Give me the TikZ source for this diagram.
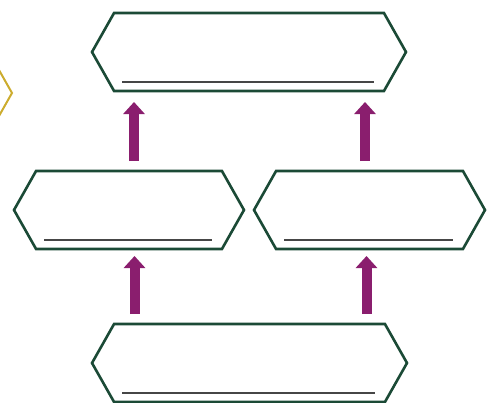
\documentclass[tikz,border=0pt]{standalone}
\usetikzlibrary{arrows.meta,calc,positioning,shapes.symbols}
\definecolor{hexgreen}{RGB}{27,74,54}
\definecolor{hexgold}{RGB}{204,172,46}
\definecolor{uppurple}{RGB}{138,30,110}
\definecolor{ruleg}{RGB}{70,70,70}

\begin{document}
\begin{tikzpicture}[x=1pt,y=-1pt,
  hexbox/.style={draw=hexgreen,line width=2.6pt,signal,signal to=east and west,
    signal pointer angle=121,minimum height=78pt,inner sep=0pt,outer sep=0pt},
  uparr/.style={draw=uppurple,line width=10pt,-{Triangle[width=21pt,length=12pt]}},
  rule/.style={draw=ruleg,line width=1.2pt}]
  \useasboundingbox (0,0) rectangle (487,402);
  % boxes
  \node[hexbox,draw=hexgold,line width=2pt,minimum width=200pt,anchor=east] (side) at (12,93) {};
  \node[hexbox,minimum width=314pt] (top) at (249,52) {};
  \node[hexbox,minimum width=230pt] (mid1) at (129,210) {};
  \node[hexbox,minimum width=231pt] (mid2) at (369.5,210) {};
  \node[hexbox,minimum width=315pt] (bot) at (249.5,363) {};
  % blank lines
  \foreach \n in {top,mid1,mid2,bot}
    \draw[rule] ($(\n.west |- \n.south)+(30pt,9pt)$) -- ($(\n.east |- \n.south)+(-32pt,9pt)$);
  % arrows
  \draw[uparr] ([xshift=-115pt,yshift=10pt]bot.north) -- ([xshift=-115pt,yshift=-7pt]bot.north |- mid1.south);
  \draw[uparr] ([xshift=117pt,yshift=10pt]bot.north) -- ([xshift=117pt,yshift=-7pt]bot.north |- mid2.south);
  \draw[uparr] ([xshift=-115pt,yshift=10pt]top.south |- mid1.north) -- ([xshift=-115pt,yshift=-11pt]top.south);
  \draw[uparr] ([xshift=116pt,yshift=10pt]top.south |- mid2.north) -- ([xshift=116pt,yshift=-11pt]top.south);
\end{tikzpicture}
\end{document}
